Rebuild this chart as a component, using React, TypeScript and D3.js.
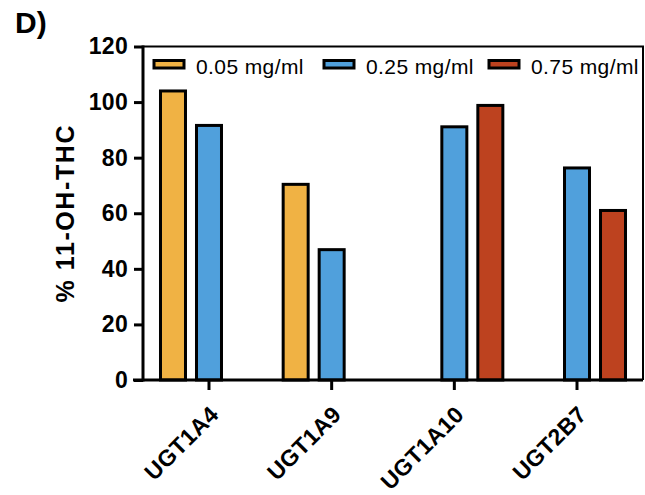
import React, { useRef, useEffect } from 'react';
import * as d3 from 'd3';

const enzymes = ['UGT1A4', 'UGT1A9', 'UGT1A10', 'UGT2B7'];
const doses = ['0.05 mg/ml', '0.25 mg/ml', '0.75 mg/ml'];
const doseColors = ['#F0B244', '#50A0DC', '#BD421F'];
// % 11-OH-THC per enzyme, null where a dose was not tested
const low: (number | null)[] = [104, 70.4, null, null];
const mid: (number | null)[] = [91.6, 46.9, 91.1, 76.3];
const high: (number | null)[] = [null, null, 98.8, 61.0];
const yTicks = [0, 20, 40, 60, 80, 100, 120];

type BarDatum = { enzyme: string; dose: string; value: number; color: string };

const bars: BarDatum[] = [];
[low, mid, high].forEach((series, si) => {
  series.forEach((v, i) => {
    if (v != null) bars.push({ enzyme: enzymes[i], dose: doses[si], value: v, color: doseColors[si] });
  });
});

const FONT = '"Liberation Sans", Arial, Helvetica, sans-serif';

export default function App() {
  const ref = useRef<SVGSVGElement>(null);

  useEffect(() => {
    if (!ref.current) return;
    const svg = d3.select(ref.current);
    svg.selectAll('*').remove();

    const left = 143;
    const right = 643;
    const top = 46.5;
    const bottom = 380;

    const y = d3.scaleLinear().domain([0, 120]).range([bottom, top]);
    const x = d3.scaleBand<string>().domain(enzymes).range([left, right]).paddingInner(0).paddingOuter(0.038);
    const sub = d3.scalePoint<string>().domain(doses).range([-36, 36]);
    const barW = 25;

    const g = svg.append('g').attr('font-family', FONT);

    // panel letter
    g.append('text')
      .attr('x', 15)
      .attr('y', 33)
      .attr('font-size', 30)
      .attr('font-weight', 700)
      .text('D)');

    // bars
    g.selectAll('rect.bar')
      .data(bars)
      .enter()
      .append('rect')
      .attr('x', (d) => x(d.enzyme)! + x.bandwidth() / 2 + sub(d.dose)! - barW / 2)
      .attr('y', (d) => y(d.value))
      .attr('width', barW)
      .attr('height', (d) => y(0) - y(d.value))
      .attr('fill', (d) => d.color)
      .attr('stroke', '#000')
      .attr('stroke-width', 3);

    // frame (top + right)
    g.append('path')
      .attr('d', `M${left},${top}H${right}V${bottom}`)
      .attr('fill', 'none')
      .attr('stroke', '#000')
      .attr('stroke-width', 2);

    // y axis
    const yAxis = g.append('g').attr('transform', `translate(${left},0)`)
      .call(d3.axisLeft(y).tickValues(yTicks).tickSize(9).tickPadding(6).tickSizeOuter(0));
    yAxis.select('.domain').attr('stroke-width', 3).attr('d', `M0,${top - 1}V${bottom + 1.5}`);
    yAxis.selectAll('.tick line').attr('stroke-width', 3);
    yAxis.selectAll('.tick text')
      .attr('font-size', 23)
      .attr('font-weight', 700)
      .attr('font-family', FONT)
      .attr('letter-spacing', 0.3)
      .attr('fill', '#000');

    // x axis
    const xAxis = g.append('g').attr('transform', `translate(0,${bottom})`)
      .call(d3.axisBottom(x).tickSize(10).tickSizeOuter(0));
    xAxis.select('.domain').attr('stroke-width', 3).attr('d', `M${left - 10},0H${right}`);
    xAxis.selectAll('.tick line').attr('stroke-width', 3);
    xAxis.selectAll('.tick text')
      .attr('font-size', 23)
      .attr('font-weight', 700)
      .attr('font-family', FONT)
      .attr('letter-spacing', 0.4)
      .attr('fill', '#000')
      .attr('text-anchor', 'end')
      .attr('dy', null)
      .attr('y', null)
      .attr('transform', 'translate(11,36) rotate(-45)');

    // y title
    g.append('text')
      .attr('transform', `translate(74,${(top + bottom) / 2}) rotate(-90)`)
      .attr('text-anchor', 'middle')
      .attr('font-size', 25)
      .attr('font-weight', 700)
      .attr('letter-spacing', 1.6)
      .text('% 11-OH-THC');

    // legend
    const legendX = [154, 324, 489];
    const lg = g.selectAll('g.legend')
      .data(doses)
      .enter()
      .append('g')
      .attr('transform', (_, i) => `translate(${legendX[i]},0)`);
    lg.append('rect')
      .attr('x', 0)
      .attr('y', 60.5)
      .attr('width', 30)
      .attr('height', 7.5)
      .attr('fill', (_, i) => doseColors[i])
      .attr('stroke', '#000')
      .attr('stroke-width', 3);
    lg.append('text')
      .attr('x', 42)
      .attr('y', 74)
      .attr('font-size', 21)
      .attr('letter-spacing', 0.4)
      .text((d) => d);
  }, []);

  return (
    <div style={{ position: 'absolute', left: 0, top: 0 }}>
      <svg ref={ref} width={645} height={495} style={{ display: 'block' }} />
    </div>
  );
}
